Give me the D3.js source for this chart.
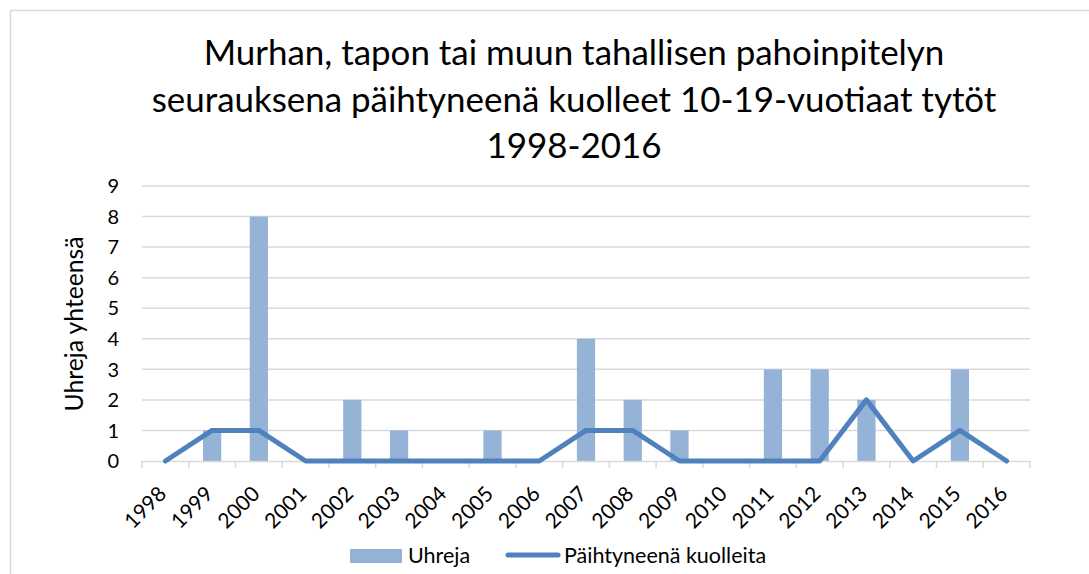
<!DOCTYPE html>
<html>
<head>
<meta charset="utf-8">
<script src="https://cdn.jsdelivr.net/npm/d3@7"></script>
<style>
  html, body { margin: 0; padding: 0; background: #fff; }
  svg { display: block; }
  text { font-family: Lato, "Noto Sans", sans-serif; fill: #000; }
</style>
</head>
<body>
<svg id="chart" width="1089" height="574"></svg>
<script>
// Vuodet, uhrit ja päihtyneenä kuolleet
const years = ["1998","1999","2000","2001","2002","2003","2004","2005","2006","2007",
               "2008","2009","2010","2011","2012","2013","2014","2015","2016"];
const uhreja = [0, 1, 8, 0, 2, 1, 0, 1, 0, 4, 2, 1, 0, 3, 3, 2, 0, 3, 0];
const paihtyneena = [0, 1, 1, 0, 0, 0, 0, 0, 0, 1, 1, 0, 0, 0, 0, 2, 0, 1, 0];
const yTicks = [0, 1, 2, 3, 4, 5, 6, 7, 8, 9];
const titleLines = [
  "Murhan, tapon tai muun tahallisen pahoinpitelyn",
  "seurauksena päihtyneenä kuolleet 10-19-vuotiaat tytöt",
  "1998-2016"
];
const seriesNames = ["Uhreja", "Päihtyneenä kuolleita"];

const barColor = "#95B3D7";
const lineColor = "#4F81BD";
const gridColor = "#D9D9D9";

const svg = d3.select("#chart");

// Skaalaa fonttikoon niin, että teksti on annetun levyinen
function fitText(sel, width) {
  const node = sel.node();
  const size = parseFloat(sel.style("font-size"));
  const len = node.getComputedTextLength();
  if (len > 0) sel.style("font-size", (size * width / len).toFixed(2) + "px");
  return sel;
}

// Kaavion kehys
svg.append("rect")
  .attr("x", 10.5).attr("y", 10.5)
  .attr("width", 1100).attr("height", 600)
  .attr("fill", "none").attr("stroke", gridColor).attr("stroke-width", 1.5);

const plot = { left: 142, right: 1030, top: 186, bottom: 461 };

const x = d3.scaleBand().domain(years).range([plot.left, plot.right]).padding(0);
const xBar = d3.scaleBand().domain(years).range([plot.left, plot.right])
  .paddingInner(0.61).paddingOuter(0.305);
const y = d3.scaleLinear().domain([0, 9]).range([plot.bottom, plot.top]);

// Vaakasuorat apuviivat
svg.append("g").selectAll("line").data(yTicks.filter(d => d > 0)).join("line")
  .attr("x1", plot.left).attr("x2", plot.right)
  .attr("y1", d => y(d)).attr("y2", d => y(d))
  .attr("stroke", gridColor).attr("stroke-width", 1.5);

// Pylväät
svg.append("g").selectAll("rect").data(years).join("rect")
  .attr("x", d => xBar(d))
  .attr("width", xBar.bandwidth())
  .attr("y", (d, i) => y(uhreja[i]))
  .attr("height", (d, i) => y(0) - y(uhreja[i]))
  .attr("fill", barColor);

// X-akseli: viiva ja luokkarajojen merkit
const xAxis = svg.append("g").attr("transform", `translate(0,${plot.bottom})`)
  .call(d3.axisBottom(x).tickSize(0).tickFormat(""));
xAxis.select(".domain").attr("stroke", gridColor).attr("stroke-width", 1.5);
const bounds = years.map(d => x(d)).concat([plot.right]);
xAxis.selectAll("line.bound").data(bounds).join("line").attr("class", "bound")
  .attr("x1", d => d).attr("x2", d => d)
  .attr("y1", 0).attr("y2", 7)
  .attr("stroke", gridColor).attr("stroke-width", 1.5);

// Vuosien nimikkeet vinossa
svg.append("g").selectAll("text").data(years).join("text")
  .attr("transform", d => `translate(${x(d) + x.bandwidth() / 2 - 3},${plot.bottom + 29}) rotate(-45)`)
  .attr("text-anchor", "end")
  .attr("dy", "0.35em")
  .style("font-size", "21px")
  .text(d => d);

// Y-akselin nimikkeet
svg.append("g").selectAll("text").data(yTicks).join("text")
  .attr("x", 119).attr("y", d => y(d))
  .attr("dy", "0.36em")
  .attr("text-anchor", "end")
  .style("font-size", "20px")
  .text(d => d);

// Viiva
const line = d3.line()
  .x((d, i) => x(years[i]) + x.bandwidth() / 2)
  .y(d => y(d));
svg.append("path").datum(paihtyneena)
  .attr("d", line)
  .attr("fill", "none").attr("stroke", lineColor)
  .attr("stroke-width", 5).attr("stroke-linejoin", "round").attr("stroke-linecap", "round");

// Otsikko
const title = svg.append("g").selectAll("text").data(titleLines).join("text")
  .attr("x", 574).attr("y", (d, i) => 65 + i * 46.5)
  .attr("text-anchor", "middle")
  .style("font-size", "34px")
  .text(d => d);
const firstLine = d3.select(title.nodes()[0]);
fitText(firstLine, 741);
title.style("font-size", firstLine.style("font-size"));

// Y-akselin otsikko
const yTitle = svg.append("text")
  .attr("transform", "translate(83,324) rotate(-90)")
  .attr("text-anchor", "middle")
  .style("font-size", "24px")
  .text("Uhreja yhteensä");
fitText(yTitle, 175);

// Selite
const legend = svg.append("g");
legend.append("rect").attr("x", 350).attr("y", 549).attr("width", 52).attr("height", 14).attr("fill", barColor);
legend.append("text").attr("x", 408).attr("y", 563).style("font-size", "21.5px").text(seriesNames[0]);
legend.append("line").attr("x1", 508).attr("x2", 558).attr("y1", 555).attr("y2", 555)
  .attr("stroke", lineColor).attr("stroke-width", 5).attr("stroke-linecap", "round");
legend.append("text").attr("x", 564).attr("y", 563).style("font-size", "21.5px").text(seriesNames[1]);
</script>
</body>
</html>
